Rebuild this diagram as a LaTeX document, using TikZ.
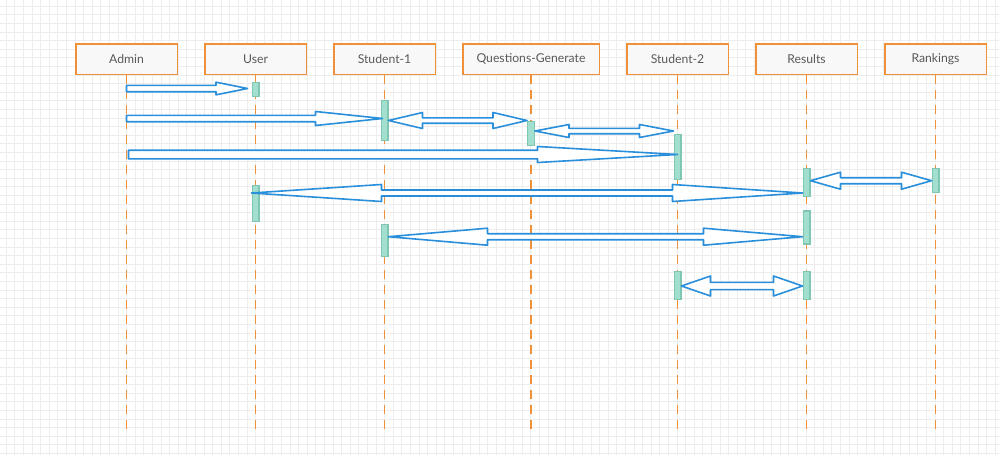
\documentclass[tikz,border=0pt]{standalone}
\usepackage{fontspec}
\setmainfont{Lato}
\usetikzlibrary{positioning, calc}
\definecolor{lineorange}{HTML}{F0913A}
\definecolor{boxgray}{HTML}{F8F8F8}
\definecolor{textgray}{HTML}{595959}
\definecolor{barfill}{HTML}{A3DFCF}
\definecolor{barline}{HTML}{7FC7B3}
\definecolor{msgblue}{HTML}{2A8FDB}
\definecolor{gridgray}{HTML}{EDEDED}

% block arrow: from, to, shaft half width, head half width, head length
\newcommand{\onearrow}[5]{%
\coordinate (hA) at ($(#2)!#5!(#1)$);
\draw[bigarrow] ($(#1)!#3!90:(#2)$) -- ($(hA)!#3!-90:(#1)$) -- ($(hA)!#4!-90:(#1)$) -- (#2) -- ($(hA)!#4!90:(#1)$) -- ($(hA)!#3!90:(#1)$) -- ($(#1)!#3!-90:(#2)$) -- cycle;}
\newcommand{\twoarrow}[5]{%
\coordinate (hA) at ($(#1)!#5!(#2)$);
\coordinate (hB) at ($(#2)!#5!(#1)$);
\draw[bigarrow] (#1) -- ($(hA)!#4!90:(#2)$) -- ($(hA)!#3!90:(#2)$) -- ($(hB)!#3!-90:(#1)$) -- ($(hB)!#4!-90:(#1)$) -- (#2) -- ($(hB)!#4!90:(#1)$) -- ($(hB)!#3!90:(#1)$) -- ($(hA)!#3!-90:(#2)$) -- ($(hA)!#4!-90:(#2)$) -- cycle;}

\begin{document}
\begin{tikzpicture}[
x=1pt, y=-1pt,
node distance=26pt,
actor/.style={draw=lineorange,
fill=boxgray,
line width=1.5pt,
minimum width=101.5pt,
minimum height=30.5pt,
text=textgray,
font=\fontsize{12.2}{14}\selectfont},
lifeline/.style={draw=lineorange, line width=1.5pt, dash pattern=on 9pt off 6pt},
bar/.style={draw=barline, fill=barfill, line width=1.2pt, minimum width=6.8pt, inner sep=0pt},
bigarrow/.style={draw=msgblue, fill=white, line width=1.6pt, line join=round}
]
\useasboundingbox (0,0) rectangle (999,455);

% background grid
\foreach \g in {6,14.6,...,999} \draw[gridgray, line width=0.6pt] (\g,0) -- (\g,455);
\foreach \g in {6,14.6,...,455} \draw[gridgray, line width=0.6pt] (0,\g) -- (999,\g);

% participants
\node[actor] (admin) at (126.5,59) {Admin};
\node[actor, right=of admin] (user) {User};
\node[actor, right=of user] (stuone) {Student-1};
\node[actor, right=of stuone, minimum width=136.5pt] (qgen) {Questions-Generate};
\node[actor, right=of qgen] (stutwo) {Student-2};
\node[actor, right=of stutwo] (results) {Results};
\node[actor, right=of results] (rankings) {Rankings};

\foreach \n in {admin,user,stuone,qgen,stutwo,results,rankings}
\draw[lifeline] (\n.south) -- (\n.south |- 0,431);

% activations
\node[bar, minimum height=14pt] (ub1) at (user |- 0,89.5) {};
\node[bar, minimum height=40pt] (s1a) at (stuone |- 0,120.5) {};
\node[bar, minimum height=24pt] (qg1) at (qgen |- 0,133.5) {};
\node[bar, minimum height=45pt] (s2a) at (stutwo |- 0,157) {};
\node[bar, minimum height=28pt] (rb1) at (results |- 0,182.5) {};
\node[bar, minimum height=24pt] (rk1) at (rankings |- 0,180.5) {};
\node[bar, minimum height=36pt] (ub2) at (user |- 0,203.5) {};
\node[bar, minimum height=33pt] (rb2) at (results |- 0,227.5) {};
\node[bar, minimum height=32pt] (s1b) at (stuone |- 0,240.5) {};
\node[bar, minimum height=28pt] (s2b) at (stutwo |- 0,285.5) {};
\node[bar, minimum height=28pt] (rb3) at (results |- 0,285.5) {};

% messages
\coordinate (m1) at (admin |- 0,88.5);
\coordinate (m1e) at ([xshift=-4pt]ub1.west |- m1);
\coordinate (m2) at (admin |- 0,118.5);
\coordinate (m2e) at ([xshift=-2pt]s1a |- m2);
\coordinate (m3) at (s1a.east |- 0,120.5);
\coordinate (m3e) at (qg1.west |- m3);
\coordinate (m4) at (qg1.east |- 0,131);
\coordinate (m4e) at (s2a.west |- m4);
\coordinate (m5) at ([xshift=2pt]admin |- 0,154.5);
\coordinate (m5e) at (s2a |- m5);
\coordinate (m6) at (ub2.west |- 0,193);
\coordinate (m6e) at (rb1.west |- m6);
\coordinate (m7) at (rb1.east |- 0,180.7);
\coordinate (m7e) at (rk1.west |- m7);
\coordinate (m8) at (s1b.east |- 0,236.7);
\coordinate (m8e) at (rb2.west |- m8);
\coordinate (m9) at (s2b.east |- 0,286);
\coordinate (m9e) at (rb3.west |- m9);

\onearrow{m1}{m1e}{3.2pt}{6.3pt}{31.5pt}
\onearrow{m2}{m2e}{3.2pt}{7pt}{67pt}
\twoarrow{m3}{m3e}{2.7pt}{8pt}{34pt}
\twoarrow{m4}{m4e}{2.7pt}{6.5pt}{34pt}
\onearrow{m5}{m5e}{4.3pt}{8pt}{140pt}
\twoarrow{m6}{m6e}{3pt}{8.5pt}{130pt}
\twoarrow{m7}{m7e}{3pt}{8.5pt}{30pt}
\twoarrow{m8}{m8e}{3pt}{8.5pt}{99pt}
\twoarrow{m9}{m9e}{3.6pt}{10pt}{29pt}

\end{tikzpicture}
\end{document}
